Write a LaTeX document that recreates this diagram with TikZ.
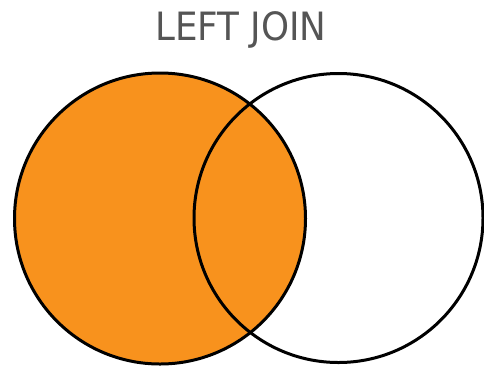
\documentclass[tikz,border=0pt]{standalone}
\usepackage{tikz}
\usepackage{xcolor}
\usepackage{fontspec}
\newfontfamily\titlefont{DejaVu Sans}
\definecolor{joinorange}{RGB}{248,146,29}
\definecolor{titlegray}{RGB}{85,85,85}

\begin{document}
\begin{tikzpicture}[x=1pt,y=-1pt]
        \useasboundingbox[fill=white] (0,0) rectangle (484,365);
        \node[titlegray,xscale=0.915,inner sep=0pt] (titel) at (241,30) {\titlefont\fontsize{39}{39}\selectfont LEFT JOIN};
        \draw[line width=3pt,fill=joinorange] (160,218.5) circle (145.5);
        \draw[line width=3pt] (338.5,218) circle (144.5);
    \end{tikzpicture}
\end{document}
